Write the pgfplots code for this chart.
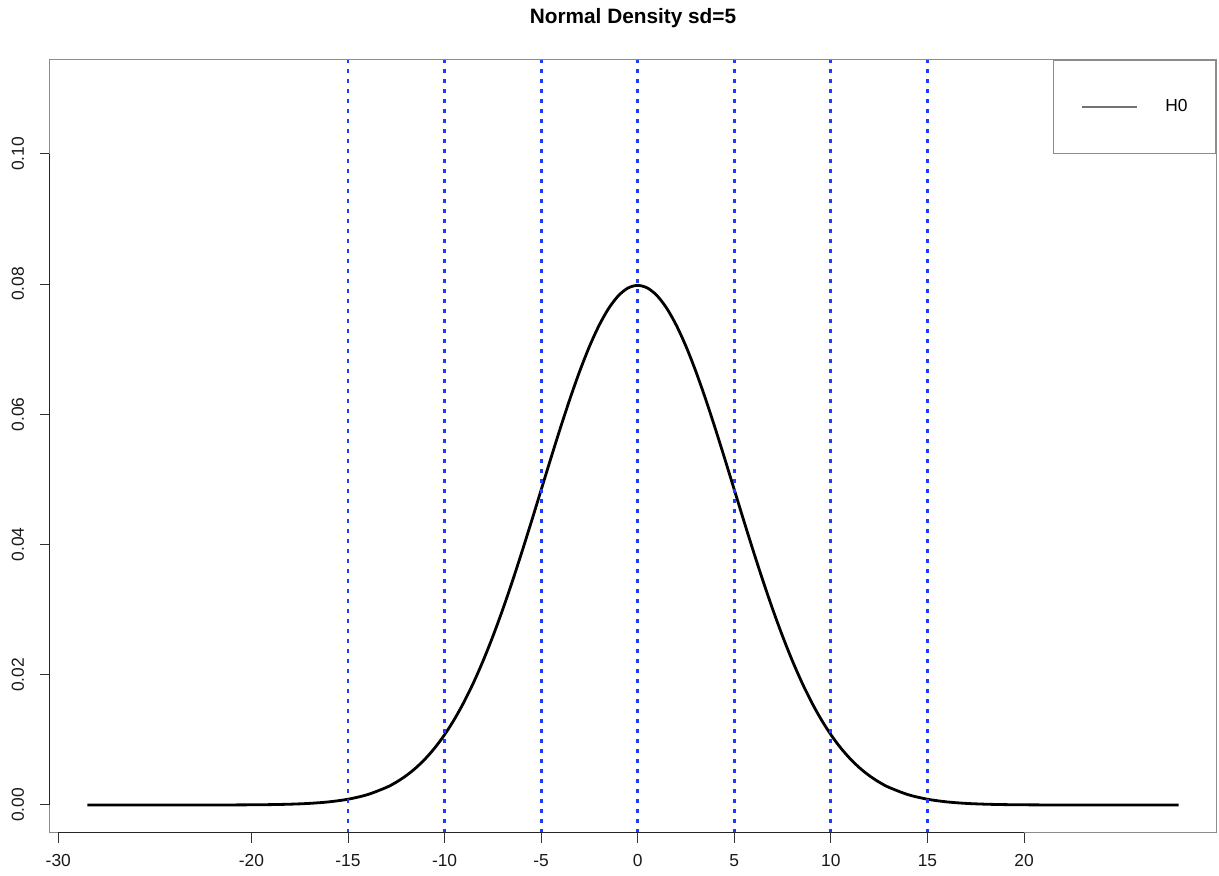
\documentclass[border=0pt]{standalone}
\usepackage{fontspec}
\setmainfont{Liberation Sans}
\usepackage{pgfplots}
\pgfplotsset{compat=1.18}
\definecolor{rblue}{RGB}{30,60,255}

% density of N(0, 5^2)
\pgfplotstableread{
x y
-28.5 0
-26 0
-24 0.0000006
-23 0.0000020
-22 0.0000050
-21 0.0000118
-20 0.0000268
-19 0.0000584
-18 0.000122
-17 0.000246
-16 0.000477
-15 0.000886
-14 0.001583
-13 0.002717
-12.5 0.003506
-12 0.004479
-11.5 0.005665
-11 0.007095
-10.5 0.008797
-10 0.010798
-9.5 0.013123
-9 0.015790
-8.5 0.018810
-8 0.022184
-7.5 0.025904
-7 0.029945
-6.5 0.034274
-6 0.038837
-5.5 0.043570
-5 0.048394
-4.5 0.053217
-4 0.057938
-3.5 0.062451
-3 0.066645
-2.5 0.070413
-2 0.073654
-1.5 0.076278
-1 0.078209
-0.5 0.079391
0 0.079788
0.5 0.079391
1 0.078209
1.5 0.076278
2 0.073654
2.5 0.070413
3 0.066645
3.5 0.062451
4 0.057938
4.5 0.053217
5 0.048394
5.5 0.043570
6 0.038837
6.5 0.034274
7 0.029945
7.5 0.025904
8 0.022184
8.5 0.018810
9 0.015790
9.5 0.013123
10 0.010798
10.5 0.008797
11 0.007095
11.5 0.005665
12 0.004479
12.5 0.003506
13 0.002717
14 0.001583
15 0.000886
16 0.000477
17 0.000246
18 0.000122
19 0.0000584
20 0.0000268
21 0.0000118
22 0.0000050
23 0.0000020
24 0.0000006
26 0
28 0
}\densitytab

\begin{document}
\begin{tikzpicture}
\path[use as bounding box] (0,0) rectangle (609.5pt,438pt);
\begin{axis}[
  at={(25pt,21.5pt)}, anchor=south west,
  scale only axis, width=583pt, height=386.5pt,
  xmin=-30.43, xmax=29.94, ymin=-0.0043, ymax=0.1144,
  clip=false,
  axis line style={draw=black!45, line width=0.5pt},
  xtick={-30,-20,-15,-10,-5,0,5,10,15,20},
  ytick={0,0.02,0.04,0.06,0.08,0.10},
  tick align=outside, major tick length=5pt,
  tick style={black!80, line width=0.5pt},
  xtick pos=bottom, ytick pos=left,
  tick label style={font=\fontsize{8.7}{10}\selectfont, black!90},
  /pgf/number format/assume math mode=true,
  yticklabel style={rotate=90, anchor=south,
    /pgf/number format/fixed, /pgf/number format/fixed zerofill,
    /pgf/number format/precision=2},
  xticklabel style={/pgf/number format/fixed},
  yticklabel shift=4.5pt, xticklabel shift=2pt,
  title={Normal Density sd=5},
  title style={font=\fontsize{10.4}{12}\selectfont\bfseries,
    at={(0.5,1)}, anchor=center, yshift=15pt},
  legend style={at={(1,1)}, anchor=north east, draw=black!45,
    line width=0.5pt, inner xsep=14pt, inner ysep=19.5pt,
    nodes={inner sep=0pt, font=\fontsize{8.7}{10}\selectfont},
    /tikz/column sep=14pt},
  legend cell align=left,
]
\addplot[black, line width=1.4pt, smooth,
  legend image code/.code={\draw[black!55, line width=0.6pt] (0pt,0pt) -- (27.5pt,0pt);}]
  table[x=x, y=y] {\densitytab};
\addlegendentry{H0}
\pgfplotsinvokeforeach{-15,-10,-5,0,5,10,15}{
  \addplot[rblue, line width=1.4pt, dash pattern=on 2pt off 3pt, forget plot]
    coordinates {(#1,-0.0043) (#1,0.1144)};
}
% dark axis lines across the tick range, as R draws them
\addplot[black!85, line width=0.5pt, forget plot] coordinates {(-30,-0.0043) (20,-0.0043)};
\addplot[black!85, line width=0.5pt, forget plot] coordinates {(-30.43,0) (-30.43,0.10)};
\end{axis}
\end{tikzpicture}
\end{document}
